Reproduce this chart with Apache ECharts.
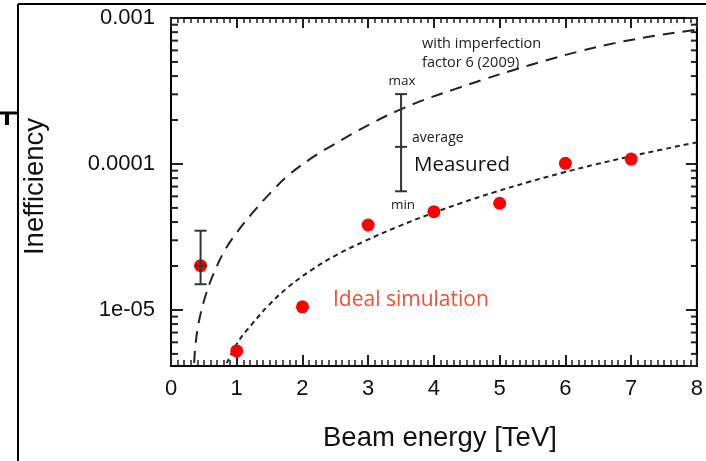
<!DOCTYPE html>
<html>
<head>
<meta charset="utf-8">
<script src="https://cdn.jsdelivr.net/npm/echarts@6/dist/echarts.min.js"></script>
<style>
  html, body { margin: 0; padding: 0; background: #fff; }
  #chart { width: 706px; height: 461px; }
</style>
</head>
<body>
<div id="chart"></div>
<script>
"use strict";

// axis ranges and tick labels
const xMin = 0, xMax = 8;
const yMin = 4.13e-6, yMax = 1e-3;
const xTickLabels = ['0', '1', '2', '3', '4', '5', '6', '7', '8'];
const yTickValues = [1e-5, 1e-4, 1e-3];
const yTickLabels = ['1e-05', '0.0001', '0.001'];
const yMinorTicks = [5e-6, 6e-6, 7e-6, 8e-6, 9e-6,
  2e-5, 3e-5, 4e-5, 5e-5, 6e-5, 7e-5, 8e-5, 9e-5,
  2e-4, 3e-4, 4e-4, 5e-4, 6e-4, 7e-4, 8e-4, 9e-4];

// ideal simulation points
const simEnergy = [0.45, 1, 2, 3, 4, 5, 6, 7];
const simIneff = [2.01e-5, 5.24e-6, 1.05e-5, 3.82e-5, 4.71e-5, 5.38e-5, 1.01e-4, 1.08e-4];

// measured point: [energy, min, average, max]
const measured = [[0.45, 1.50e-5, 2.01e-5, 3.49e-5]];
// the key drawn next to "Measured"
const measuredKey = [[3.5, 6.5e-5, 1.31e-4, 3.01e-4]];

// curve "with imperfection factor 6 (2009)"
const imperfE = [0.353, 0.37, 0.42, 0.52, 0.65, 0.82, 1.0, 1.23, 1.53, 1.78, 2.14, 2.44,
  2.77, 3.10, 3.45, 3.85, 4.33, 4.73, 5.19, 5.69, 6.20, 6.75, 7.36, 7.91, 8.0];
const imperfIneff = [4.34e-6, 5.62e-6, 8.13e-6, 1.23e-5, 1.78e-5, 2.57e-5, 3.39e-5, 4.57e-5,
  6.46e-5, 8.32e-5, 1.10e-4, 1.33e-4, 1.62e-4, 1.95e-4, 2.32e-4, 2.75e-4, 3.27e-4, 3.76e-4,
  4.37e-4, 5.10e-4, 5.89e-4, 6.73e-4, 7.55e-4, 8.22e-4, 8.32e-4];

// ideal curve
const idealE = [0.848, 1.026, 1.227, 1.48, 1.78, 2.14, 2.54, 2.94, 3.45, 3.95, 4.43, 4.93,
  5.44, 5.94, 6.45, 6.95, 7.46, 7.91, 8.0];
const idealIneff = [4.32e-6, 6.10e-6, 7.94e-6, 1.07e-5, 1.43e-5, 1.88e-5, 2.41e-5, 2.95e-5,
  3.72e-5, 4.55e-5, 5.43e-5, 6.43e-5, 7.52e-5, 8.67e-5, 9.91e-5, 1.117e-4, 1.253e-4, 1.38e-4, 1.406e-4];

const zip = (a, b) => a.map((v, i) => [v, b[i]]);

const axisFont = 'Liberation Sans, Arial, sans-serif';
const noteFont = '"Open Sans", Lato, sans-serif';
const tickColor = '#1f1f2e';

function yLabel(v) {
  const i = yTickValues.findIndex(t => Math.abs(Math.log10(t) - Math.log10(v)) < 1e-6);
  return i < 0 ? '' : yTickLabels[i];
}

// vertical bar with caps at min, average and max
function renderErrorBar(params, api) {
  const x = api.value(0);
  const lo = api.coord([x, api.value(1)]);
  const mid = api.coord([x, api.value(2)]);
  const hi = api.coord([x, api.value(3)]);
  const h = 6;
  const style = { stroke: '#333', lineWidth: 2 };
  return {
    type: 'group',
    children: [
      { type: 'line', shape: { x1: hi[0], y1: hi[1], x2: lo[0], y2: lo[1] }, style: style },
      { type: 'line', shape: { x1: hi[0] - h, y1: hi[1], x2: hi[0] + h, y2: hi[1] }, style: style },
      { type: 'line', shape: { x1: mid[0] - h, y1: mid[1], x2: mid[0] + h, y2: mid[1] }, style: style },
      { type: 'line', shape: { x1: lo[0] - h, y1: lo[1], x2: lo[0] + h, y2: lo[1] }, style: style }
    ]
  };
}

// minor ticks of the log axis, on both sides
function renderMinorTick(params, api) {
  const v = api.value(1);
  const l = api.coord([xMin, v]);
  const r = api.coord([xMax, v]);
  const style = { stroke: tickColor, lineWidth: 2 };
  return {
    type: 'group',
    children: [
      { type: 'line', shape: { x1: l[0], y1: l[1], x2: l[0] + 7, y2: l[1] }, style: style },
      { type: 'line', shape: { x1: r[0], y1: r[1], x2: r[0] - 6, y2: r[1] }, style: style }
    ]
  };
}

function xAxisOpt(extra) {
  return Object.assign({
    type: 'value',
    min: xMin,
    max: xMax,
    interval: 1,
    axisLine: { show: true, onZero: false, lineStyle: { color: '#000', width: 2 } },
    axisTick: { show: true, inside: true, length: 10, lineStyle: { color: tickColor, width: 2 } },
    minorTick: { show: true, splitNumber: 10, length: 5, lineStyle: { color: tickColor, width: 1.5 } },
    splitLine: { show: false }
  }, extra);
}

function yAxisOpt(extra) {
  return Object.assign({
    type: 'log',
    min: yMin,
    max: yMax,
    axisLine: { show: true, onZero: false, lineStyle: { color: '#000', width: 2 } },
    axisTick: { show: true, inside: true, length: 11, lineStyle: { color: tickColor, width: 2 } },
    splitLine: { show: false }
  }, extra);
}

const chart = echarts.init(document.getElementById('chart'));

const option = {
  animation: false,
  backgroundColor: '#fff',
  grid: { left: 171, right: 7, top: 18, bottom: 95, show: true, borderColor: '#000', borderWidth: 2 },
  xAxis: [
    xAxisOpt({
      position: 'bottom',
      name: 'Beam energy [TeV]',
      nameLocation: 'middle',
      nameGap: 58,
      nameTextStyle: { fontFamily: axisFont, fontSize: 27.5, color: '#111', padding: [0, 0, 0, 12] },
      axisTick: { show: true, inside: true, length: 11, lineStyle: { color: tickColor, width: 2 } },
      minorTick: { show: true, splitNumber: 10, length: 6, lineStyle: { color: tickColor, width: 1.5 } },
      axisLabel: {
        margin: 12, fontFamily: axisFont, fontSize: 22, color: '#111',
        formatter: v => xTickLabels[Math.round(v)] || ''
      }
    }),
    xAxisOpt({ position: 'top', axisLabel: { show: false } })
  ],
  yAxis: [
    yAxisOpt({
      position: 'left',
      name: 'Inefficiency',
      nameLocation: 'middle',
      nameGap: 122,
      nameTextStyle: { fontFamily: axisFont, fontSize: 27.5, color: '#111', padding: [0, 0, 0, 11] },
      axisTick: { show: true, inside: true, length: 12, lineStyle: { color: tickColor, width: 2 } },
      axisLabel: {
        margin: 16, fontFamily: axisFont, fontSize: 22, color: '#111',
        showMinLabel: false, formatter: yLabel
      }
    }),
    yAxisOpt({ position: 'right', axisLabel: { show: false } })
  ],
  series: [
    {
      type: 'custom',
      renderItem: renderMinorTick,
      data: yMinorTicks.map(v => [xMin, v]),
      encode: { x: 0, y: 1 },
      z: 5
    },
    {
      type: 'line',
      data: zip(imperfE, imperfIneff),
      smooth: 0.4,
      showSymbol: false,
      lineStyle: { color: '#222', width: 2, type: [12, 8] },
      z: 2
    },
    {
      type: 'line',
      data: zip(idealE, idealIneff),
      smooth: 0.4,
      showSymbol: false,
      lineStyle: { color: '#222', width: 2, type: [5, 4] },
      z: 2
    },
    {
      type: 'scatter',
      data: zip(simEnergy, simIneff),
      symbolSize: 13,
      itemStyle: { color: '#ff0000', opacity: 1 },
      z: 3
    },
    {
      type: 'custom',
      renderItem: renderErrorBar,
      data: measured.concat(measuredKey),
      encode: { x: 0, y: [1, 2, 3] },
      z: 4
    }
  ],
  graphic: [
    // frame left over from the cropped figure
    { type: 'line', shape: { x1: 18, y1: 4, x2: 706, y2: 4 }, style: { stroke: '#000', lineWidth: 2 } },
    { type: 'line', shape: { x1: 18, y1: 4, x2: 18, y2: 461 }, style: { stroke: '#000', lineWidth: 2 } },
    { type: 'line', shape: { x1: 0, y1: 113, x2: 18, y2: 113 }, style: { stroke: '#000', lineWidth: 3 } },
    { type: 'line', shape: { x1: 7, y1: 113, x2: 7, y2: 125 }, style: { stroke: '#000', lineWidth: 4 } },
    // notes
    { type: 'text', x: 422, y: 44, style: { text: 'with imperfection', font: '14.5px ' + noteFont, fill: '#222', align: 'left', verticalAlign: 'middle' } },
    { type: 'text', x: 422, y: 63, style: { text: 'factor 6 (2009)', font: '14.5px ' + noteFont, fill: '#222', align: 'left', verticalAlign: 'middle' } },
    { type: 'text', x: 402, y: 81, style: { text: 'max', font: '13.5px ' + noteFont, fill: '#222', align: 'center', verticalAlign: 'middle' } },
    { type: 'text', x: 412, y: 138, style: { text: 'average', font: '14px ' + noteFont, fill: '#222', align: 'left', verticalAlign: 'middle' } },
    { type: 'text', x: 414, y: 165, style: { text: 'Measured', font: '20.5px ' + noteFont, fill: '#111', align: 'left', verticalAlign: 'middle' } },
    { type: 'text', x: 403, y: 205, style: { text: 'min', font: '13.5px ' + noteFont, fill: '#222', align: 'center', verticalAlign: 'middle' } },
    { type: 'text', x: 333, y: 300, style: { text: 'Ideal simulation', font: '21px ' + noteFont, fill: '#ef4f37', align: 'left', verticalAlign: 'middle' } }
  ]
};

chart.setOption(option);
</script>
</body>
</html>
